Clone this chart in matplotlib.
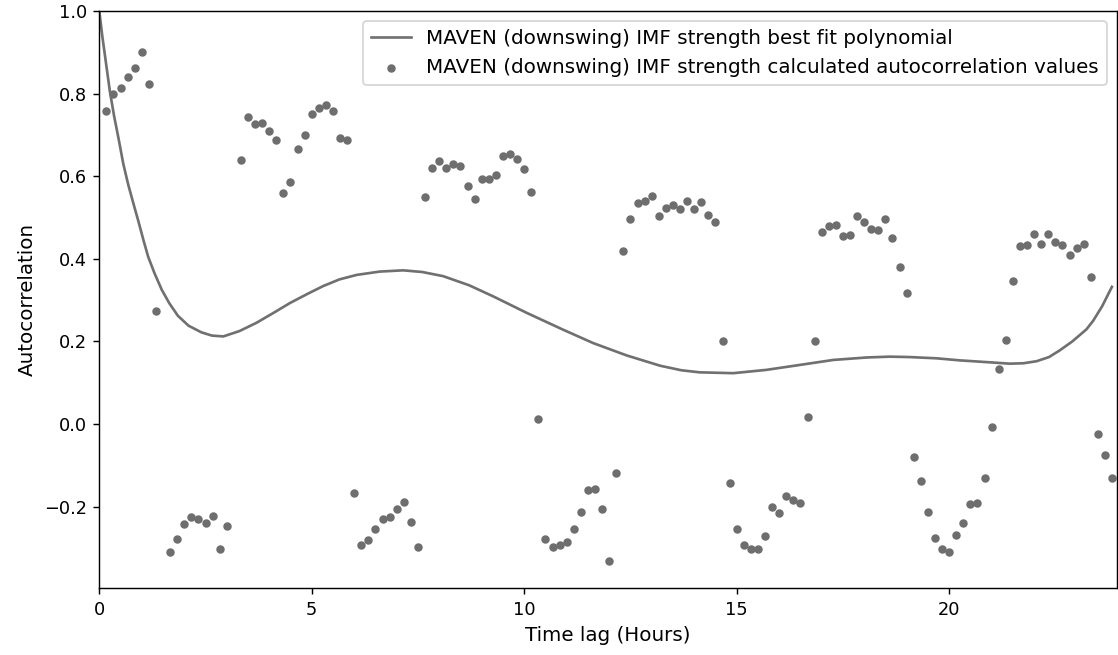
import numpy as np
import matplotlib
matplotlib.use("Agg")
import matplotlib.pyplot as plt

# lag steps of 10 minutes (1..143), expressed in hours
lag_step = np.arange(1, 144)
lag_hours = lag_step / 6.0

autocorr = [
    0.758, 0.799, 0.814, 0.841, 0.862, 0.901, 0.824, 0.273, np.nan, -0.310,
    -0.279, -0.243, -0.226, -0.230, -0.241, -0.222, -0.303, -0.247, np.nan, 0.639,
    0.744, 0.726, 0.730, 0.709, 0.688, 0.559, 0.587, 0.667, 0.699, 0.751,
    0.764, 0.772, 0.758, 0.692, 0.688, -0.167, -0.293, -0.282, -0.254, -0.230,
    -0.226, -0.205, -0.188, -0.237, -0.297, 0.549, 0.621, 0.636, 0.621, 0.629,
    0.625, 0.576, 0.545, 0.594, 0.594, 0.604, 0.650, 0.654, 0.642, 0.618,
    0.562, 0.011, -0.278, -0.297, -0.293, -0.285, -0.254, -0.212, -0.161, -0.157,
    -0.205, -0.331, -0.118, 0.419, 0.497, 0.534, 0.541, 0.552, 0.503, 0.524,
    0.531, 0.520, 0.541, 0.520, 0.538, 0.507, 0.489, 0.200, -0.142, -0.255,
    -0.293, -0.303, -0.303, -0.272, -0.202, -0.216, -0.174, -0.184, -0.192, 0.018,
    0.200, 0.465, 0.479, 0.482, 0.454, 0.457, 0.503, 0.489, 0.472, 0.469,
    0.496, 0.451, 0.381, 0.318, -0.079, -0.139, -0.212, -0.276, -0.303, -0.310,
    -0.268, -0.240, -0.195, -0.192, -0.132, -0.007, 0.133, 0.203, 0.346, 0.430,
    0.433, 0.461, 0.437, 0.461, 0.440, 0.433, 0.409, 0.426, 0.437, 0.356,
    -0.024, -0.076, -0.132,
]

# best fit polynomial
fit_x = [0.0, 0.07, 0.13, 0.25, 0.35, 0.45, 0.565, 0.68, 0.8, 0.92,
         1.04, 1.15, 1.3, 1.47, 1.65, 1.85, 2.1, 2.4, 2.65, 2.92,
         3.3, 3.7, 4.1, 4.49, 4.9, 5.27, 5.65, 6.06, 6.6, 7.15,
         7.6, 8.09, 8.7, 9.27, 10.06, 10.9, 11.62, 12.41, 13.2, 13.7,
         14.13, 14.92, 15.7, 16.49, 17.27, 18.06, 18.6, 19.07, 19.7, 20.25,
         20.85, 21.43, 21.75, 22.06, 22.35, 22.6, 22.9, 23.23, 23.39, 23.6,
         23.83]
fit_y = [1.0, 0.94, 0.895, 0.805, 0.745, 0.693, 0.630, 0.580, 0.535, 0.491,
         0.445, 0.405, 0.365, 0.325, 0.292, 0.262, 0.238, 0.222, 0.214, 0.212,
         0.225, 0.245, 0.269, 0.293, 0.315, 0.334, 0.350, 0.361, 0.369, 0.372,
         0.368, 0.358, 0.336, 0.309, 0.269, 0.229, 0.196, 0.166, 0.141, 0.130,
         0.125, 0.123, 0.131, 0.143, 0.155, 0.161, 0.163, 0.162, 0.159, 0.154,
         0.150, 0.146, 0.147, 0.152, 0.162, 0.178, 0.200, 0.229, 0.250, 0.285,
         0.332]

DPI = 128
fig = plt.figure(figsize=(1118 / DPI, 655 / DPI), dpi=DPI)
ax = fig.add_axes([0.0888, 0.1018, 0.9103, 0.8814])

ax.plot(fit_x, fit_y, color="#707070", linewidth=1.5,
        label="MAVEN (downswing) IMF strength best fit polynomial")
ax.scatter(lag_hours, autocorr, s=14, color="#6e6e6e",
           label="MAVEN (downswing) IMF strength calculated autocorrelation values")

ax.set_xlim(0, 23.95)
ax.set_ylim(-0.398, 1.0)
ax.set_yticks([-0.2, 0.0, 0.2, 0.4, 0.6, 0.8, 1.0])
ax.set_xlabel("Time lag (Hours)", fontsize=11.2)
ax.set_ylabel("Autocorrelation", fontsize=11.2)
ax.legend(loc="upper right", fontsize=11.2)

fig.savefig("out.png", dpi=DPI)
